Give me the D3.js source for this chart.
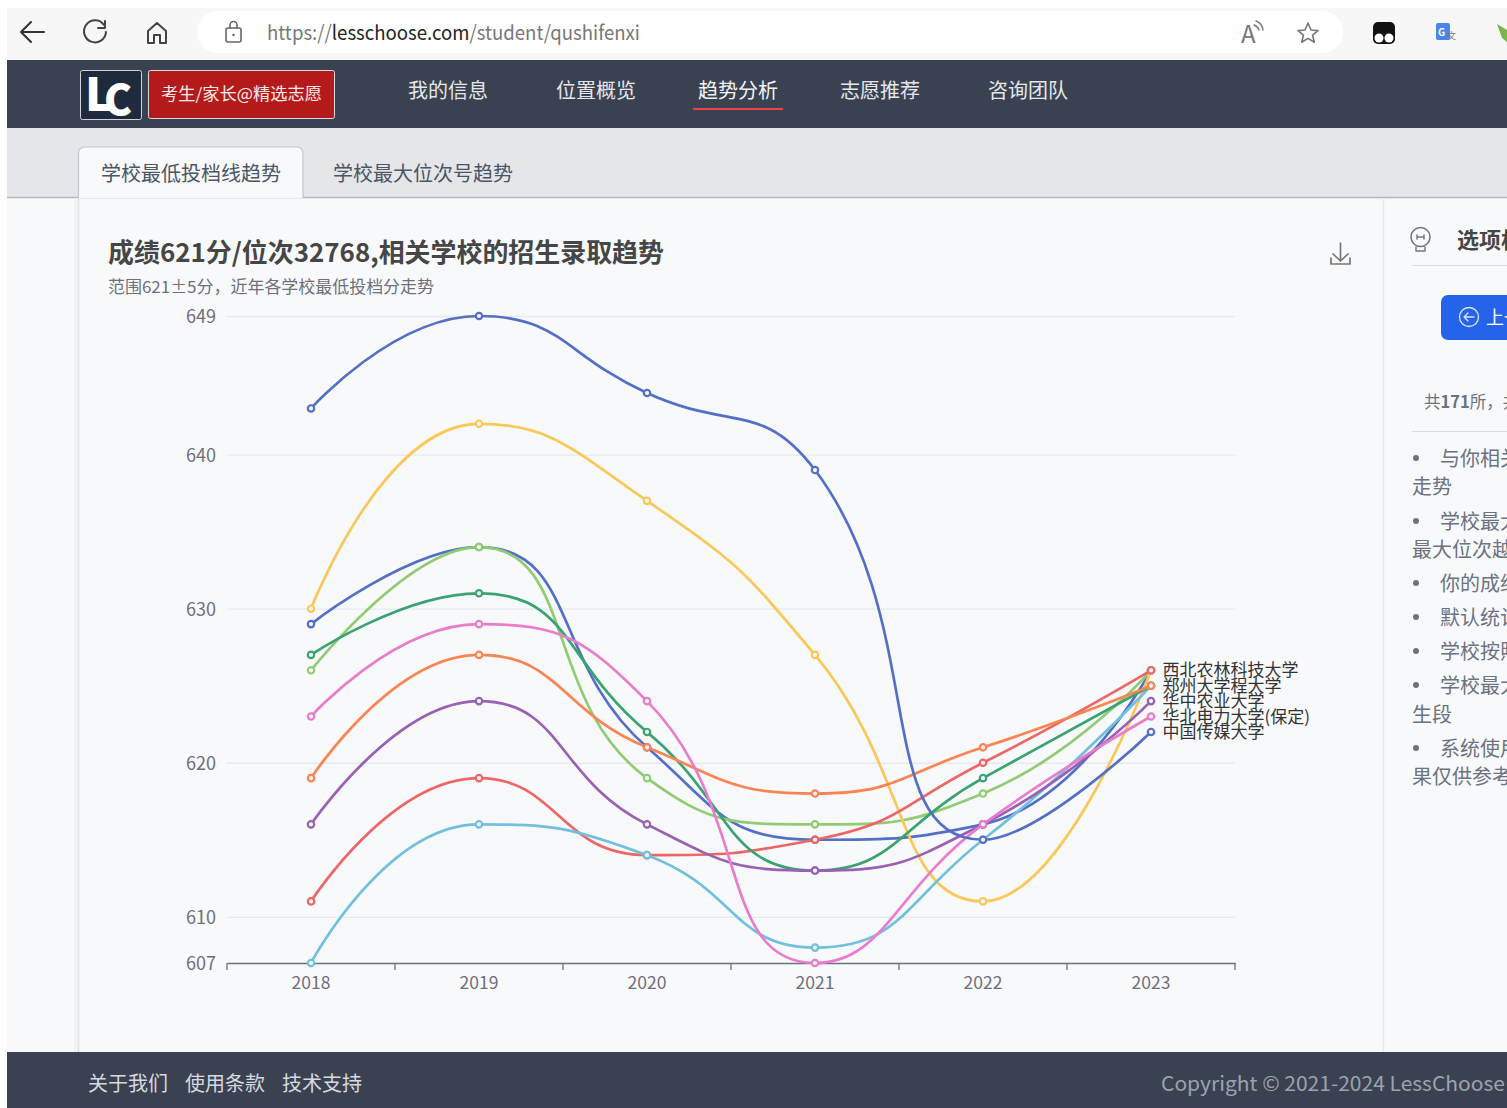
<!DOCTYPE html>
<html lang="zh-CN"><head><meta charset="utf-8">
<script src="https://cdn.jsdelivr.net/npm/d3@7/dist/d3.min.js"></script>
<style>
html,body{margin:0;padding:0;background:#fff;overflow:hidden}
svg{display:block}
text{font-family:"Noto Sans CJK SC","Noto Sans",sans-serif}
</style></head><body><svg id="c" width="1507" height="1108"></svg>
<script>
const years = ["2018","2019","2020","2021","2022","2023"];
const yTicks = [607,610,620,630,640,649];
const blueMid   = [629,634,621,615,616,626];
const green     = [626,634,619,616,618,626];
const yellow    = [630,642,637,627,611,626];
const red       = [611,619,614,615,620,626];
const cyan      = [607,616,614,608,615,625];
const teal      = [627,631,622,613,619,625];
const orange    = [619,627,621,618,621,625];
const purple    = [616,624,616,613,616,624];
const pink      = [623,629,624,607,616,623];
const blueTop   = [643,649,644,639,615,622];
const seriesData = [blueMid,green,yellow,red,cyan,teal,orange,purple,pink,blueTop];
const palette = ["#5470c6","#91cc75","#fac858","#ee6666","#73c0de","#3ba272","#fc8452","#9a60b4","#ea7ccc","#5470c6"];
const endLabels = [["西北农林科技大学",626],["郑州大学程大学",625],["华中农业大学",624],["华北电力大学(保定)",623],["中国传媒大学",622]];
const navItems = [["我的信息",408],["位置概览",556],["趋势分析",698],["志愿推荐",840],["咨询团队",988]];
const sideLines = [["与你相关",1440,457,1],["走势",1412,485,0],["学校最大",1440,520,1],["最大位次越",1412,548,0],["你的成绩",1440,582,1],["默认统计",1440,616,1],["学校按照",1440,650,1],["学校最大",1440,684,1],["生段",1412,713,0],["系统使用",1440,747,1],["果仅供参考",1412,775,0]];
const footerLinks = [["关于我们",88],["使用条款",185],["技术支持",282]];

const svg = d3.select("#c");
const R=(x,y,w,h,f,o={})=>{const r=svg.append("rect").attr("x",x).attr("y",y).attr("width",w).attr("height",h).attr("fill",f);for(const k in o)r.attr(k,o[k]);return r;};
const T=(s,x,y,size,fill,o={})=>{const t=svg.append("text").attr("x",x).attr("y",y).attr("font-size",size).attr("fill",fill).attr("dominant-baseline","central").text(s);for(const k in o)t.attr(k,o[k]);return t;};
const L=(x1,y1,x2,y2,c,w=1)=>svg.append("line").attr("x1",x1).attr("y1",y1).attr("x2",x2).attr("y2",y2).attr("stroke",c).attr("stroke-width",w);
const P=(d,c,w=2)=>svg.append("path").attr("d",d).attr("fill","none").attr("stroke",c).attr("stroke-width",w).attr("stroke-linecap","round").attr("stroke-linejoin","round");

// page backgrounds
R(0,0,1507,1108,"#ffffff");
R(7,8,1500,52,"#f7f7f7");
R(197,11,1146,42,"#ffffff",{rx:21});
R(7,60,1500,68,"#3a4252");
R(7,128,1500,70,"#e4e6ea");
R(7,197,1500,855,"#f8f9fb");
L(7,197.5,1507,197.5,"#b4b6c0",1.5);
R(74,198,4,854,"#f2f3f6");
L(78.5,198,78.5,1052,"#dfe1e6",1.5);
L(1383.5,198,1383.5,1052,"#e8eaee",1.5);
R(7,1052,1500,56,"#3a4252");

// browser chrome
P("M44 32H21M31 22L21 32L31 42","#333",2);
P("M104 25a11 11 0 1 0 2 7M105 21v7h-7","#444",2);
P("M148 43V31l9-8l9 8V43h-6V35h-6V43z","#444",2);
R(226,28,15,14,"none",{stroke:"#666","stroke-width":1.6,rx:2});
P("M230 28v-3a3.5 3.5 0 0 1 7 0v3","#666",1.6);
svg.append("circle").attr("cx",233.5).attr("cy",35).attr("r",1.2).attr("fill","#666");
const url=T("",267,31,20,"#777",{textLength:373,lengthAdjust:"spacingAndGlyphs"});
url.append("tspan").text("https://");
url.append("tspan").attr("fill","#222").text("lesschoose.com");
url.append("tspan").text("/student/qushifenxi");
T("A",1241,32,24,"#777",{"font-family":"Liberation Sans"});
P("M1254 25a8 8 0 0 1 5 5M1256 21a11 11 0 0 1 7 9","#777",1.4);
P("M1308 23l3 7l7 .6l-5.4 4.6l1.7 7l-6.3-3.8l-6.3 3.8l1.7-7l-5.4-4.6l7-.6z","#777",1.6);
R(1373,22,22,22,"#111",{rx:5});
svg.append("circle").attr("cx",1379).attr("cy",38).attr("r",4.5).attr("fill","#fff");
svg.append("circle").attr("cx",1389).attr("cy",38).attr("r",4.5).attr("fill","#fff");
R(1436,23,14,17,"#4a86e8",{rx:2});
T("G",1438,31,10,"#fff",{"font-weight":700});
T("文",1447,35,9,"#777");
svg.append("path").attr("d","M1497 24L1507 30V42L1502 38z").attr("fill","#7ab648");

// nav
R(80.5,70.5,61,49,"#1f2a3c",{stroke:"#cfd3da",rx:2});
T("L",85,91,46,"#fff",{"font-weight":900,"font-family":"Liberation Sans"});
T("C",104,96,42,"#fff",{"font-weight":900,"font-family":"Liberation Sans"});
R(148.5,70.5,186,48,"#b51a1a",{stroke:"#d8dce2",rx:2});
T("考生/家长@精选志愿",161,93,16.5,"#f5eaea",{textLength:161,lengthAdjust:"spacingAndGlyphs"});
navItems.forEach(([s,x],i)=>T(s,x,89,20,i===2?"#f3f4f6":"#e5e7eb"));
L(693,109,783,109,"#ef4444",2);

// tabs
svg.append("path").attr("d","M78.5 198V153a6 6 0 0 1 6-6H297a6 6 0 0 1 6 6V198").attr("fill","#f8f9fb").attr("stroke","#c4c6ce").attr("stroke-width",1.2);
T("学校最低投档线趋势",101,172,20,"#4b5563");
T("学校最大位次号趋势",333,172,20,"#4b5563");

// titles
T("成绩621分/位次32768,相关学校的招生录取趋势",108,250.5,26,"#464646",{"font-weight":700,textLength:556,lengthAdjust:"spacingAndGlyphs"});
T("范围621±5分，近年各学校最低投档分走势",108,286,16.5,"#6e7079",{textLength:326,lengthAdjust:"spacingAndGlyphs"});
P("M1340.500 243V261M1333 254L1340.500 261L1348 254M1331 258V264H1350V258","#777",1.7);

// chart
const y = d3.scaleLinear().domain([607,649]).range([963,316]);
const x = d3.scaleBand().domain(years).range([227,1235]);
const centerX = d => x(d)+x.bandwidth()/2;

const axL = svg.append("g").attr("transform","translate(227,0)").call(d3.axisLeft(y).tickValues(yTicks).tickSize(0).tickPadding(11).tickFormat(d3.format("d")));
axL.select(".domain").remove();
axL.selectAll("text").attr("font-size",18).attr("fill","#6e7079").attr("dy","0.37em").style("font-family",'"Noto Sans CJK SC"');
svg.append("g").selectAll("line").data(yTicks.filter(d=>d!==607)).join("line")
  .attr("x1",227).attr("x2",1235).attr("y1",d=>y(d)+.5).attr("y2",d=>y(d)+.5).attr("stroke","#e6e9f2").attr("stroke-width",1.3);

const axB = svg.append("g").attr("transform","translate(0,963)").call(d3.axisBottom(x).tickSize(0).tickPadding(14));
axB.select(".domain").attr("stroke","#6e7079").attr("stroke-width",1.3);
axB.selectAll("text").attr("font-size",17.5).attr("fill","#6e7079").style("font-family",'"Noto Sans CJK SC"');
svg.append("g").selectAll("line").data(years.concat("end")).join("line")
  .attr("x1",(d,i)=>227+i*x.step()).attr("x2",(d,i)=>227+i*x.step()).attr("y1",963).attr("y2",970).attr("stroke","#6e7079").attr("stroke-width",1.3);

// ECharts-style constrained smoothing as a d3 curve factory
function EchartsCurve(ctx){this._ctx=ctx;}
EchartsCurve.prototype={
  areaStart(){},areaEnd(){},
  lineStart(){this._p=[];},
  point(a,b){this._p.push([+a,+b]);},
  lineEnd(){
    const p=this._p,c=this._ctx,s=0.5;
    const clamp=(v,a,b)=>Math.max(Math.min(v,Math.max(a,b)),Math.min(a,b));
    c.moveTo(p[0][0],p[0][1]);
    let cp=p[0];
    for(let i=1;i<p.length;i++){
      const [px,py]=p[i];
      if(i===p.length-1){c.bezierCurveTo(cp[0],cp[1],px,py,px,py);break;}
      const [ax,ay]=p[i-1],[bx,by]=p[i+1];
      let vx=bx-ax,vy=by-ay;
      const l0=Math.hypot(px-ax,py-ay),l1=Math.hypot(bx-px,by-py);
      const r=l1/(l0+l1);
      let nx=clamp(px+vx*s*r,bx,px),ny=clamp(py+vy*s*r,by,py);
      vx=nx-px;vy=ny-py;
      let c1x=clamp(px-vx*l0/l1,ax,px),c1y=clamp(py-vy*l0/l1,ay,py);
      vx=px-c1x;vy=py-c1y;
      nx=px+vx*l1/l0;ny=py+vy*l1/l0;
      c.bezierCurveTo(cp[0],cp[1],c1x,c1y,px,py);
      cp=[nx,ny];
    }
  }
};
const curve = ctx=>new EchartsCurve(ctx);
const line = d3.line().x((d,i)=>centerX(years[i])).y(d=>y(d)).curve(curve);

const g = svg.append("g");
seriesData.forEach((vals,k)=>{
  g.append("path").datum(vals).attr("d",line).attr("fill","none").attr("stroke",palette[k]).attr("stroke-width",2.7).attr("stroke-linejoin","round");
});
seriesData.forEach((vals,k)=>{
  g.append("g").selectAll("circle").data(vals).join("circle")
    .attr("cx",(d,i)=>centerX(years[i])).attr("cy",d=>y(d)).attr("r",3.2)
    .attr("fill","#f8f9fb").attr("stroke",palette[k]).attr("stroke-width",2.2);
});
svg.append("g").selectAll("text").data(endLabels).join("text")
  .attr("x",centerX("2023")+11.5).attr("y",d=>y(d[1])-1.5).attr("dominant-baseline","central")
  .attr("font-size",17).attr("fill","#333").text(d=>d[0]);

// side panel
svg.append("circle").attr("cx",1420.500).attr("cy",237).attr("r",9.500).attr("fill","none").attr("stroke","#777").attr("stroke-width",1.6);
P("M1416 247v4h9v-4M1417 235v4M1424 235v4M1417 237h7","#777",1.5);
T("选项析",1457,237.5,22,"#464646",{"font-weight":700});
L(1412,265.500,1507,265.500,"#d9dbe0",1);
R(1441,295,90,45,"#2563eb",{rx:7});
svg.append("circle").attr("cx",1469).attr("cy",317).attr("r",9.500).attr("fill","none").attr("stroke","#dbe6ff").attr("stroke-width",1.3);
P("M1474 317H1464M1468 313L1464 317L1468 321","#dbe6ff",1.3);
T("上一",1486,316,18,"#fff");
const cnt=T("",1424,401,16.500,"#6b7280");
cnt.append("tspan").text("共");
cnt.append("tspan").attr("font-weight",700).text("171");
cnt.append("tspan").text("所，共");
L(1412,431.500,1507,431.500,"#d9dbe0",1);
sideLines.forEach(([s,xp,yp,b])=>{
  T(s,xp,yp,20,"#6b7280");
  if(b) svg.append("circle").attr("cx",1416).attr("cy",yp+1).attr("r",3).attr("fill","#6b7280");
});

// footer
footerLinks.forEach(([s,xp])=>T(s,xp,1082,20,"#d6d9df"));
T("Copyright © 2021-2024 LessChoose",1161,1082,20.500,"#9ca3af",{textLength:344,lengthAdjust:"spacingAndGlyphs"});
</script></body></html>
